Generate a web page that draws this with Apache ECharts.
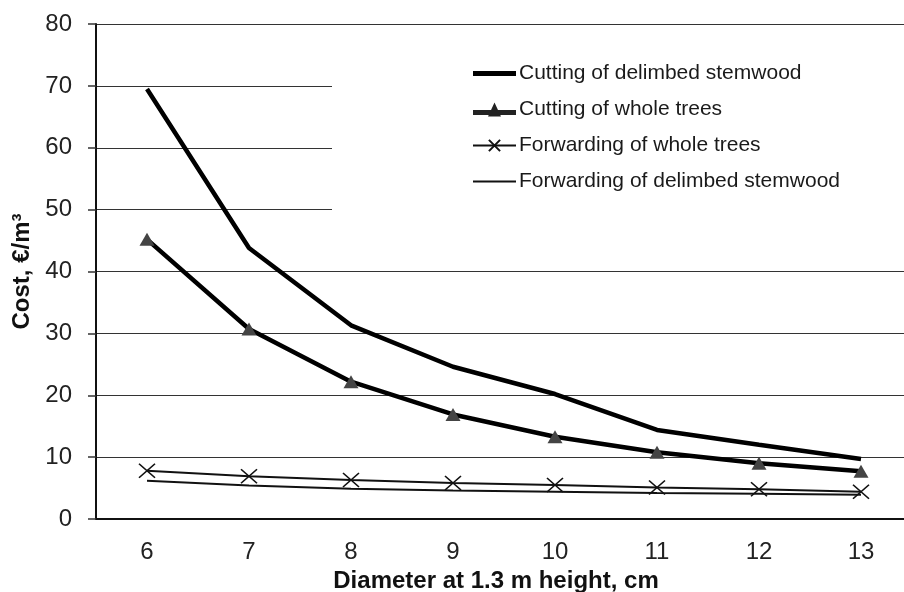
<!DOCTYPE html>
<html>
<head>
<meta charset="utf-8">
<script src="https://cdn.jsdelivr.net/npm/echarts@6/dist/echarts.min.js"></script>
<style>html,body{margin:0;padding:0;background:#fff}#c{width:904px;height:592px}</style>
</head>
<body>
<div id="c"></div>
<script>
const categories = ['6','7','8','9','10','11','12','13'];
const cuttingDelimbed = [69.5, 43.8, 31.3, 24.6, 20.2, 14.4, 12.0, 9.7];
const cuttingWhole = [45.2, 30.7, 22.2, 16.9, 13.3, 10.8, 9.0, 7.7];
const forwardingWhole = [7.8, 6.9, 6.3, 5.8, 5.5, 5.1, 4.8, 4.4];
const forwardingDelimbed = [6.2, 5.4, 4.9, 4.6, 4.4, 4.2, 4.1, 3.9];
const seriesNames = ['Cutting of delimbed stemwood','Cutting of whole trees','Forwarding of whole trees','Forwarding of delimbed stemwood'];
const yTicks = {min: 0, max: 80, interval: 10};

const font = 'Liberation Sans, Arial, sans-serif';
const chart = echarts.init(document.getElementById('c'));
const crossPath = 'path://M0,0L10,10M10,0L0,10';
chart.setOption({
  animation: false,
  backgroundColor: '#fff',
  grid: {left: 96, right: -8, top: 24, bottom: 73, containLabel: false, outerBoundsMode: 'none'},
  legend: {
    orient: 'vertical',
    left: 332, top: 40,
    padding: [23, 140, 40, 140],
    backgroundColor: '#fff',
    itemWidth: 43, itemHeight: 14, itemGap: 15,
    symbolKeepAspect: true,
    textStyle: {fontFamily: font, fontSize: 21, color: '#1a1a1a', padding: [0,0,0,-2]},
    data: [
      {name: seriesNames[0], icon: 'path://M0,0H43V5H0Z', itemStyle: {color: '#000'}},
      {name: seriesNames[1], icon: 'path://M0,7.5H43V12.5H0Z M15,14L21.5,0L28,14Z', itemStyle: {color: '#222'}},
      {name: seriesNames[2]},
      {name: seriesNames[3], icon: 'path://M0,0H42V2H0Z', itemStyle: {color: '#111'}}
    ]
  },
  xAxis: {
    type: 'category',
    data: categories,
    boundaryGap: true,
    name: 'Diameter at 1.3 m height, cm',
    nameLocation: 'middle',
    nameGap: 50,
    nameTextStyle: {fontFamily: font, fontSize: 24, fontWeight: 'bold', color: '#111', padding: [0, 16, 0, 0]},
    axisLine: {lineStyle: {color: '#111', width: 2}},
    axisTick: {length: 8, lineStyle: {color: '#111', width: 1.5}},
    axisLabel: {fontFamily: font, fontSize: 24, color: '#222', margin: 21},
    splitLine: {show: false}
  },
  yAxis: {
    type: 'value',
    min: yTicks.min, max: yTicks.max, interval: yTicks.interval,
    name: 'Cost, €/m³',
    nameLocation: 'middle',
    nameRotate: 90,
    nameGap: 60,
    nameTextStyle: {fontFamily: font, fontSize: 24, fontWeight: 'bold', color: '#111'},
    axisLine: {show: true, lineStyle: {color: '#111', width: 2}},
    axisTick: {show: true, length: 8, lineStyle: {color: '#333', width: 1.5}},
    axisLabel: {fontFamily: font, fontSize: 24, color: '#222', margin: 24},
    splitLine: {lineStyle: {color: '#333', width: 1.2}}
  },
  series: [
    {
      name: seriesNames[0], type: 'line', data: cuttingDelimbed,
      symbol: 'none', lineStyle: {color: '#000', width: 4.5}, itemStyle: {color: '#000'}, z: 3
    },
    {
      name: seriesNames[1], type: 'line', data: cuttingWhole,
      symbol: 'triangle', symbolSize: [15, 13], showAllSymbol: true,
      lineStyle: {color: '#000', width: 4.5}, itemStyle: {color: '#444', borderWidth: 0}, z: 3
    },
    {
      name: seriesNames[2], type: 'line', data: forwardingWhole,
      symbol: crossPath, symbolSize: [16, 14], showAllSymbol: true,
      lineStyle: {color: '#111', width: 2},
      itemStyle: {color: 'transparent', borderColor: '#111', borderWidth: 1.5}, z: 3
    },
    {
      name: seriesNames[3], type: 'line', data: forwardingDelimbed,
      symbol: 'none', lineStyle: {color: '#111', width: 2}, itemStyle: {color: '#111'}, z: 3
    }
  ]
});
</script>
</body>
</html>
